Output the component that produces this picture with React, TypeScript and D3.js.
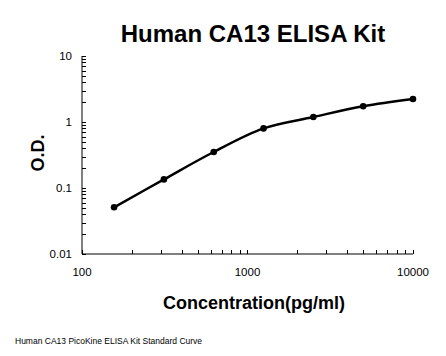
import React from "react";
import * as d3 from "d3";

const concentrations = [156.25, 312.5, 625, 1250, 2500, 5000, 10000];
const odValues = [0.051, 0.135, 0.351, 0.8, 1.19, 1.73, 2.23];
const xTickLabels = [100, 1000, 10000];
const yTickLabels = [0.01, 0.1, 1, 10];

const W = 446;
const H = 356;
const left = 82;
const right = 413;
const top = 56;
const bottom = 254;

export default function App() {
  const x = d3.scaleLog().domain([100, 10000]).range([left, right]);
  const y = d3.scaleLog().domain([0.01, 10]).range([bottom, top]);

  const xMinor: number[] = [];
  for (let d = 100; d < 10000; d *= 10) {
    for (let k = 2; k <= 9; k++) xMinor.push(d * k);
  }
  const yMinor: number[] = [];
  for (let d = 0.01; d < 9.9; d *= 10) {
    for (let k = 2; k <= 9; k++) yMinor.push(d * k);
  }

  const pts = concentrations.map((c, i) => [x(c), y(odValues[i])] as [number, number]);
  const line = d3.line().curve(d3.curveCatmullRom.alpha(0.5))(pts) || "";

  const font = "Arial, 'Liberation Sans', sans-serif";

  return (
    <svg width={W} height={H} style={{ position: "absolute", left: 0, top: 0, background: "#fff" }}>
      <rect x={0} y={0} width={W} height={H} fill="#fff" />
      <text x={253} y={42} textAnchor="middle" fontFamily={font} fontWeight="bold" fontSize={24} fill="#000">
        Human CA13 ELISA Kit
      </text>
      <line x1={left} x2={left} y1={top} y2={bottom} stroke="#000" strokeWidth={1} />
      <line x1={left} x2={right} y1={bottom} y2={bottom} stroke="#000" strokeWidth={1} />
      {yTickLabels.concat(yMinor).map((v, i) => (
        <line key={"yt" + i} x1={left} x2={left + 4} y1={Math.round(y(v)) + 0.5} y2={Math.round(y(v)) + 0.5} stroke="#000" strokeWidth={1} />
      ))}
      {xTickLabels.concat(xMinor).map((v, i) => (
        <line key={"xt" + i} x1={Math.round(x(v)) + 0.5} x2={Math.round(x(v)) + 0.5} y1={bottom} y2={bottom - 4} stroke="#000" strokeWidth={1} />
      ))}
      {yTickLabels.map((v, i) => (
        <text key={"yl" + i} x={left - 10} y={y(v) + 4} textAnchor="end" fontFamily={font} fontSize={11.5} fill="#000">
          {String(v)}
        </text>
      ))}
      {xTickLabels.map((v, i) => (
        <text key={"xl" + i} x={x(v)} y={276} textAnchor="middle" fontFamily={font} fontSize={11.5} fill="#000">
          {String(v)}
        </text>
      ))}
      <path d={line} fill="none" stroke="#000" strokeWidth={2.5} strokeLinejoin="round" />
      {pts.map((p, i) => (
        <circle key={"pt" + i} cx={p[0]} cy={p[1]} r={3.3} fill="#000" />
      ))}
      <text x={254} y={309} textAnchor="middle" fontFamily={font} fontWeight="bold" fontSize={18} fill="#000">
        Concentration(pg/ml)
      </text>
      <text transform="translate(44,153) rotate(-90)" textAnchor="middle" fontFamily={font} fontWeight="bold" fontSize={18} fill="#000">
        O.D.
      </text>
      <text x={15} y={344} fontFamily={font} fontSize={8.5} fill="#000">
        Human CA13 PicoKine ELISA Kit Standard Curve
      </text>
    </svg>
  );
}
